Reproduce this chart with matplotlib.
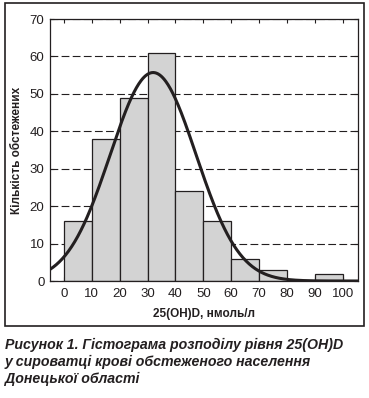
import numpy as np
import matplotlib.pyplot as plt
from matplotlib.patches import Rectangle

plt.rcParams['font.family'] = ['Liberation Sans', 'DejaVu Sans']

# histogram data
bin_edges = [0, 10, 20, 30, 40, 50, 60, 70, 80, 90, 100]
counts = [16, 38, 49, 61, 24, 16, 6, 3, 0, 2]
x_ticks = [0, 10, 20, 30, 40, 50, 60, 70, 80, 90, 100]
y_ticks = [0, 10, 20, 30, 40, 50, 60, 70]

# fitted normal curve parameters
fit_mean = 32.0
fit_sd = 15.4

INK = '#231f20'

fig = plt.figure(figsize=(3.69, 3.98), dpi=100)
W, H = 369, 398

# outer frame around the chart
fig.patches.append(Rectangle((5 / W, 1 - 326 / H), 359 / W, 323 / H,
                             transform=fig.transFigure, fill=False,
                             edgecolor=INK, linewidth=1.2))

ax = fig.add_axes([50 / W, 1 - 281 / H, 308 / W, 262 / H])

widths = np.diff(bin_edges)
ax.bar(bin_edges[:-1], counts, width=widths, align='edge',
       color='#d3d3d3', edgecolor=INK, linewidth=0.9, zorder=2)

n_total = sum(counts)
xs = np.linspace(-5, 105.5, 400)
ys = n_total * 10 / (fit_sd * np.sqrt(2 * np.pi)) * np.exp(-(xs - fit_mean) ** 2 / (2 * fit_sd ** 2))
ax.plot(xs, ys, color=INK, linewidth=2.2, zorder=3)

ax.set_xlim(-5, 105.5)
ax.set_ylim(0, 70)
ax.set_xticks(x_ticks)
ax.set_yticks(y_ticks)
ax.yaxis.grid(True, linestyle=(0, (7, 3)), color=INK, linewidth=0.8, zorder=1)
ax.set_axisbelow(True)
ax.tick_params(axis='both', labelsize=9.5, colors=INK, length=3, width=0.8,
               direction='in', right=True, top=True)
ax.tick_params(axis='x', pad=5)
ax.tick_params(axis='y', pad=4)
for s in ax.spines.values():
    s.set_color(INK)
    s.set_linewidth(0.9)

ax.set_xlabel('25(OH)D, нмоль/л', fontsize=8.5, fontweight='bold', color=INK, labelpad=6)
ax.set_ylabel('Кількість обстежених', fontsize=8.5, fontweight='bold', color=INK, labelpad=5)

caption = ['Рисунок 1. Гістограма розподілу рівня 25(OH)D',
           'у сироватці крові обстеженого населення',
           'Донецької області']
for i, line in enumerate(caption):
    fig.text(5 / W, 1 - (345 + i * 17) / H, line, fontsize=10.2, fontweight='bold',
             fontstyle='italic', color=INK, va='center', ha='left')

fig.savefig('out.png', dpi=100)
